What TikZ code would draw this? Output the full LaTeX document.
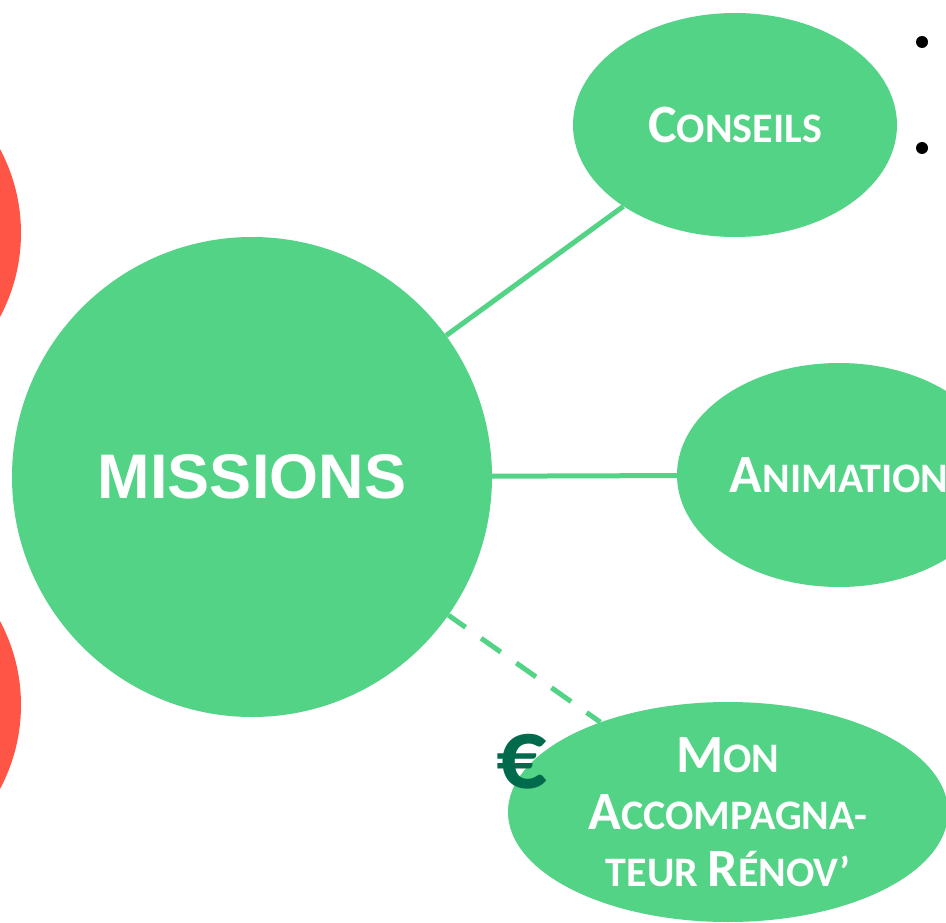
\documentclass[tikz,border=0pt]{standalone}
\usepackage{fontspec}
\setmainfont{Carlito}
\newfontfamily\arialfont{Liberation Sans}
\usetikzlibrary{shapes.geometric}
\definecolor{mgreen}{HTML}{53D386}
\definecolor{mred}{HTML}{FF5546}
\definecolor{eurogreen}{HTML}{006B4C}
\newcommand{\capsm}[2]{{\fontsize{54}{57}\selectfont #1}{\fontsize{42}{57}\selectfont #2}}
\begin{document}
\begin{tikzpicture}[x=1pt,y=-1pt,
    bubble/.style={ellipse,fill=mgreen,inner sep=0pt,text=white,
      font=\bfseries\fontsize{42}{57}\selectfont,align=center},
    link/.style={draw=mgreen,line width=5pt},
    dot/.style={circle,fill=black,inner sep=0pt,minimum size=12pt}]
  \useasboundingbox (0,0) rectangle (946,923);
  \clip (0,0) rectangle (946,923);
  % red circles on the left edge
  \fill[mred] (-157,233) circle[radius=178];
  \fill[mred] (-157,705) circle[radius=178];
  % bubbles
  \node[circle,fill=mgreen,inner sep=0pt,minimum size=480pt,text=white,
    font=\arialfont\bfseries\fontsize{63}{63}\selectfont] (missions) at (252,477) {MISSIONS};
  \node[bubble,minimum width=324pt,minimum height=224pt] (conseils) at (735,125) {\capsm{C}{ONSEILS}};
  \node[bubble,minimum width=324pt,minimum height=224pt] (animation) at (839,475) {\capsm{A}{NIMATION}};
  \node[bubble,minimum width=440pt,minimum height=220pt] (mar) at (728,812)
    {\capsm{M}{ON}\\\capsm{A}{CCOMPAGNA-}\\{\fontsize{42}{57}\selectfont TEUR }\capsm{R}{ÉNOV’}};
  \node[text=eurogreen,font=\bfseries\fontsize{100}{100}\selectfont] (euro) at (522,762) {€};
  % bullets
  \node[dot] (b1) at (922,42) {};
  \node[dot] (b2) at (922,148) {};
  % links
  \begin{scope}[link]
    \draw (missions) -- (conseils);
    \draw (missions) -- (animation);
    \draw[dash pattern=on 24pt off 19pt,dash phase=3pt] (missions) -- (mar);
  \end{scope}
\end{tikzpicture}
\end{document}
